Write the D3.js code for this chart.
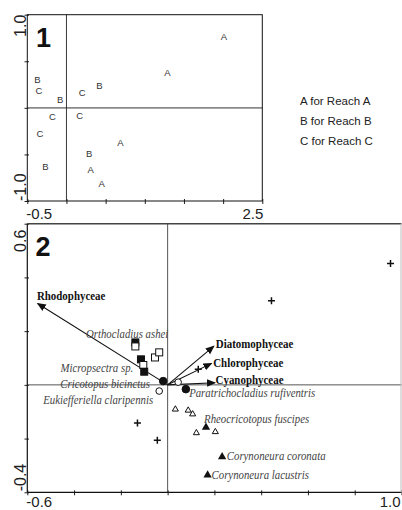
<!DOCTYPE html>
<html><head><meta charset="utf-8">
<script src="https://cdn.jsdelivr.net/npm/d3@7"></script>
<style>body{margin:0;background:#fff}svg{display:block}</style>
</head><body><svg id="c" width="402" height="510"></svg>
<script>
// ---------- Panel 1 data ----------
const reachLabels = ["A","A","B","C","B","C","B","C","C","C","A","B","B","A","A"];
const reachX = [2.01,1.29,-0.37,-0.35,-0.08,0.20,0.42,-0.18,0.17,-0.34,0.69,0.29,-0.27,0.31,0.45];
const reachY = [0.77,0.38,0.30,0.19,0.09,0.17,0.24,-0.09,-0.08,-0.28,-0.37,-0.49,-0.63,-0.66,-0.81];
const legendItems = ["A for Reach A","B for Reach B","C for Reach C"];
const p1XTicks = [-0.5,0,0.5,1,1.5,2,2.5];
const p1YTicks = [-1,-0.5,0,0.5,1];
const p1XTickLabels = ["-0.5","2.5"];
const p1YTickLabels = ["-1.0","1.0"];

// ---------- Panel 2 data ----------
const algaeNames = ["Rhodophyceae","Diatomophyceae","Chlorophyceae","Cyanophyceae"];
const algaeX = [-0.556,0.198,0.188,0.203];
const algaeY = [0.303,0.144,0.080,0.008];
const algaeLabelX = [-0.559,0.206,0.195,0.205];
const algaeLabelY = [0.316,0.139,0.066,0.005];

const symType = ["sqF","sqO","sqF","sqO","sqF","sqO","sqO",
                 "cirF","cirO","cirO","cirF",
                 "triO","triO","triO","triO","triO","triF","triF","triF",
                 "plus","plus","plus","plus","plus"];
const symX = [-0.138,-0.138,-0.114,-0.104,-0.100,-0.054,-0.036,
              -0.019,-0.036,0.045,0.078,
              0.033,0.088,0.107,0.123,0.204,0.164,0.233,0.171,
              0.953,0.444,0.131,-0.129,-0.044];
const symY = [0.158,0.143,0.095,0.074,0.049,0.102,0.121,
              0.014,-0.023,0.010,-0.016,
              -0.088,-0.092,-0.106,-0.176,-0.172,-0.155,-0.265,-0.333,
              0.452,0.313,0.058,-0.142,-0.206];

const speciesNames = ["Orthocladius ashei","Micropsectra sp.","Cricotopus bicinctus","Eukiefferiella claripennis",
  "Paratrichocladius rufiventris","Rheocricotopus fuscipes","Corynoneura coronata","Corynoneura lacustris"];
const speciesLabelX = [0.003,-0.147,-0.076,-0.062,0.092,0.156,0.253,0.188];
const speciesLabelY = [0.176,0.048,-0.010,-0.070,-0.047,-0.142,-0.280,-0.349];
const speciesAnchor = ["end","end","end","end","start","start","start","start"];

const p2XTicks = [-0.6,-0.4,-0.2,0,0.2,0.4,0.6,0.8,1.0];
const p2YTicks = [-0.4,-0.2,0,0.2,0.4,0.6];
const p2XTickLabels = ["-0.6","1.0"];
const p2YTickLabels = ["-0.4","0.6"];

const svg = d3.select("#c");
const SANS = "'Liberation Sans', Arial, sans-serif";
const SERIF = "'Liberation Serif', 'Times New Roman', serif";

// ---------- Panel 1 ----------
const x1 = d3.scaleLinear().domain([-0.5,2.5]).range([27.3,262.3]);
const y1 = d3.scaleLinear().domain([-1,1]).range([201,14.7]);
const g1 = svg.append("g");

g1.append("g").attr("transform","translate(0,199)")
  .call(d3.axisBottom(x1).tickValues(p1XTicks).tickSize(5).tickSizeOuter(0).tickFormat(""))
  .call(g=>g.select(".domain").remove())
  .call(g=>g.selectAll("line").attr("stroke","#222"));
g1.append("g").attr("transform","translate(29,0)")
  .call(d3.axisLeft(y1).tickValues(p1YTicks).tickSize(4.5).tickSizeOuter(0).tickFormat(""))
  .call(g=>g.select(".domain").remove())
  .call(g=>g.selectAll("line").attr("stroke","#222"));

g1.append("line").attr("x1",x1(-0.5)).attr("x2",x1(2.5)).attr("y1",y1(0)).attr("y2",y1(0))
  .attr("stroke","#8a8a8a").attr("stroke-width",1.6);
g1.append("line").attr("x1",x1(0)).attr("x2",x1(0)).attr("y1",y1(1)).attr("y2",y1(-1))
  .attr("stroke","#222").attr("stroke-width",0.9);
g1.append("rect").attr("x",x1(-0.5)).attr("y",y1(1)).attr("width",x1(2.5)-x1(-0.5)).attr("height",y1(-1)-y1(1))
  .attr("fill","none").attr("stroke","#111").attr("stroke-width",1);

g1.selectAll("text.pt").data(reachLabels).join("text").attr("class","pt")
  .attr("x",(d,i)=>x1(reachX[i])).attr("y",(d,i)=>y1(reachY[i]))
  .attr("text-anchor","middle").attr("dominant-baseline","central")
  .attr("font-family",SANS).attr("font-size",9.5).attr("fill","#333").text(d=>d);

g1.append("text").attr("x",36).attr("y",46.5).attr("font-family",SANS).attr("font-weight","bold")
  .attr("font-size",27).attr("fill","#111").text("1");

g1.append("text").attr("x",x1(-0.5)-1).attr("y",218.5).attr("font-family",SANS).attr("font-size",15)
  .attr("fill","#222").text(p1XTickLabels[0]);
g1.append("text").attr("x",x1(2.5)+1).attr("y",218.5).attr("text-anchor","end").attr("font-family",SANS).attr("font-size",15)
  .attr("fill","#222").text(p1XTickLabels[1]);
g1.append("text").attr("transform",`translate(25.5,${y1(-1)}) rotate(-90)`).attr("text-anchor","start")
  .attr("font-family",SANS).attr("font-size",16).attr("fill","#222").text(p1YTickLabels[0]);
g1.append("text").attr("transform",`translate(25.5,${y1(1)}) rotate(-90)`).attr("text-anchor","end")
  .attr("font-family",SANS).attr("font-size",16).attr("fill","#222").text(p1YTickLabels[1]);

g1.selectAll("text.leg").data(legendItems).join("text").attr("class","leg")
  .attr("x",300).attr("y",(d,i)=>105+i*20).attr("font-family",SANS).attr("font-size",11.5)
  .attr("fill","#222").text(d=>d);

// ---------- Panel 2 ----------
const x2 = d3.scaleLinear().domain([-0.6,1.0]).range([27.3,401.5]);
const y2 = d3.scaleLinear().domain([-0.4,0.6]).range([492.3,223.7]);
const g2 = svg.append("g");

g2.append("g").attr("transform","translate(0,490.3)")
  .call(d3.axisBottom(x2).tickValues(p2XTicks).tickSize(5).tickSizeOuter(0).tickFormat(""))
  .call(g=>g.select(".domain").remove())
  .call(g=>g.selectAll("line").attr("stroke","#222"));
g2.append("g").attr("transform","translate(29,0)")
  .call(d3.axisLeft(y2).tickValues(p2YTicks).tickSize(4.5).tickSizeOuter(0).tickFormat(""))
  .call(g=>g.select(".domain").remove())
  .call(g=>g.selectAll("line").attr("stroke","#222"));

g2.append("line").attr("x1",x2(-0.6)).attr("x2",x2(1.0)).attr("y1",y2(0)).attr("y2",y2(0))
  .attr("stroke","#555").attr("stroke-width",1);
g2.append("line").attr("x1",x2(0)).attr("x2",x2(0)).attr("y1",y2(0.6)).attr("y2",y2(-0.4))
  .attr("stroke","#555").attr("stroke-width",1);
// box
g2.append("line").attr("x1",x2(-0.6)).attr("x2",x2(1.0)).attr("y1",y2(0.6)).attr("y2",y2(0.6))
  .attr("stroke","#444").attr("stroke-width",1.6);
g2.append("line").attr("x1",x2(-0.6)).attr("x2",x2(1.0)).attr("y1",y2(-0.4)).attr("y2",y2(-0.4))
  .attr("stroke","#111").attr("stroke-width",1.2);
g2.append("line").attr("x1",x2(-0.6)).attr("x2",x2(-0.6)).attr("y1",y2(0.6)).attr("y2",y2(-0.4))
  .attr("stroke","#111").attr("stroke-width",1.2);
g2.append("line").attr("x1",x2(1.0)-0.5).attr("x2",x2(1.0)-0.5).attr("y1",y2(0.6)).attr("y2",y2(-0.4))
  .attr("stroke","#bbb").attr("stroke-width",1);

// arrows
svg.append("defs").append("marker").attr("id","ah").attr("viewBox","0 0 10 10")
  .attr("refX",9).attr("refY",5).attr("markerWidth",9).attr("markerHeight",9)
  .attr("markerUnits","userSpaceOnUse").attr("orient","auto")
  .append("path").attr("d","M0,0.8 L10,5 L0,9.2 Z").attr("fill","#111");

g2.selectAll("line.arr").data(algaeNames).join("line").attr("class","arr")
  .attr("x1",x2(0)).attr("y1",y2(0))
  .attr("x2",(d,i)=>x2(algaeX[i])).attr("y2",(d,i)=>y2(algaeY[i]))
  .attr("stroke","#111").attr("stroke-width",1.1).attr("marker-end","url(#ah)");

// symbols
const sq = 7;
const tri = d3.symbol().type(d3.symbolTriangle);
const symG = g2.append("g");
symType.forEach((t,i)=>{
  const cx = x2(symX[i]), cy = y2(symY[i]);
  if (t==="sqF"||t==="sqO") {
    symG.append("rect").attr("x",cx-sq/2).attr("y",cy-sq/2).attr("width",sq).attr("height",sq)
      .attr("fill",t==="sqF"?"#111":"#fff").attr("stroke","#111").attr("stroke-width",1);
  } else if (t==="cirF"||t==="cirO") {
    symG.append("circle").attr("cx",cx).attr("cy",cy).attr("r",t==="cirF"?3.8:3.3)
      .attr("fill",t==="cirF"?"#111":"#fff").attr("stroke","#111").attr("stroke-width",1);
  } else if (t==="triO") {
    symG.append("path").attr("transform",`translate(${cx},${cy+0.8})`).attr("d",tri.size(16)())
      .attr("fill","#fff").attr("stroke","#111").attr("stroke-width",1);
  } else if (t==="triF") {
    symG.append("path").attr("transform",`translate(${cx},${cy+0.8})`).attr("d",tri.size(30)())
      .attr("fill","#111");
  } else {
    symG.append("path").attr("d",`M${cx-3.5},${cy}H${cx+3.5}M${cx},${cy-3.5}V${cy+3.5}`)
      .attr("stroke","#111").attr("stroke-width",1.5);
  }
});

// species labels
g2.selectAll("text.sp").data(speciesNames).join("text").attr("class","sp")
  .attr("transform",(d,i)=>`translate(${x2(speciesLabelX[i])},${y2(speciesLabelY[i])}) scale(0.83,1)`)
  .attr("text-anchor",(d,i)=>speciesAnchor[i])
  .attr("font-family",SERIF).attr("font-style","italic").attr("font-size",13)
  .attr("fill","#444").text(d=>d);

// algae labels
g2.selectAll("text.al").data(algaeNames).join("text").attr("class","al")
  .attr("transform",(d,i)=>`translate(${x2(algaeLabelX[i])},${y2(algaeLabelY[i])}) scale(0.84,1)`)
  .attr("font-family",SERIF).attr("font-weight","bold").attr("font-size",13)
  .attr("fill","#111").text(d=>d);

g2.append("text").attr("x",35.5).attr("y",255.7).attr("font-family",SANS).attr("font-weight","bold")
  .attr("font-size",27).attr("fill","#111").text("2");

g2.append("text").attr("x",x2(-0.6)-1).attr("y",507).attr("font-family",SANS).attr("font-size",15)
  .attr("fill","#222").text(p2XTickLabels[0]);
g2.append("text").attr("x",x2(1.0)-1).attr("y",507).attr("text-anchor","end").attr("font-family",SANS).attr("font-size",15)
  .attr("fill","#222").text(p2XTickLabels[1]);
g2.append("text").attr("transform",`translate(25.5,${y2(-0.4)-1}) rotate(-90)`).attr("text-anchor","start")
  .attr("font-family",SANS).attr("font-size",16).attr("fill","#222").text(p2YTickLabels[0]);
g2.append("text").attr("transform",`translate(25.5,${y2(0.6)+6}) rotate(-90)`).attr("text-anchor","end")
  .attr("font-family",SANS).attr("font-size",16).attr("fill","#222").text(p2YTickLabels[1]);
</script>
</body></html>
